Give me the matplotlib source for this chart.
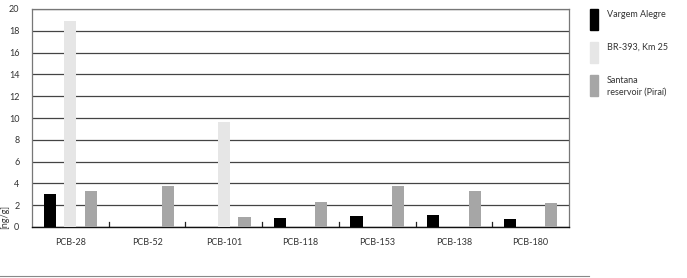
import numpy as np
import matplotlib.pyplot as plt
from matplotlib.patches import Rectangle
from matplotlib.lines import Line2D

# data
categories = ['PCB-28', 'PCB-52', 'PCB-101', 'PCB-118', 'PCB-153', 'PCB-138', 'PCB-180']
vargem     = [3.0, 0, 0, 0.8, 1.0, 1.1, 0.7]
br393      = [18.9, 0, 9.6, 0, 0, 0, 0]
santana    = [3.3, 3.8, 0.9, 2.3, 3.8, 3.3, 2.2]
series_names = ['Vargem Alegre', 'BR-393, Km 25', 'Santana\nreservoir (Piraí)']
colors = ['#000000', '#e6e6e6', '#a6a6a6']

plt.rcParams['font.family'] = ['Lato', 'DejaVu Sans']

W, H = 687, 278
fig = plt.figure(figsize=(W / 100, H / 100), dpi=100)
ax = fig.add_axes((32 / W, 1 - 227 / H, (569 - 32) / W, (227 - 9) / H))

x = np.arange(len(categories))
width = 0.157
offs = [-0.27, 0.0, 0.27]
for vals, off, c in zip([vargem, br393, santana], offs, colors):
    ax.bar(x + off, vals, width, color=c, zorder=3)

ax.set_xlim(-0.5, len(categories) - 0.5)
ax.set_ylim(0, 20)
ax.set_yticks(np.arange(0, 21, 2))
ax.yaxis.grid(True, color='#444444', lw=0.9, zorder=1)
ax.tick_params(axis='y', length=0, pad=9, labelsize=6.5, colors='#333333')
ax.set_xticks(x)
ax.set_xticklabels(categories)
ax.tick_params(axis='x', length=0, pad=8, labelsize=6.5, colors='#333333')

# small separator ticks between groups
for b in x[1:] - 0.5:
    ax.plot([b, b], [0, 0.45], color='#222222', lw=0.9, zorder=2)

for s in ['top', 'right', 'left']:
    ax.spines[s].set_color('#777777')
    ax.spines[s].set_linewidth(0.9)
ax.spines['bottom'].set_color('#111111')
ax.spines['bottom'].set_linewidth(1.0)

fig.text(5 / W, 1 - 217 / H, '[ng/g]', rotation=90, fontsize=6.5,
         color='#333333', ha='center', va='center')

# legend drawn by hand
for i, (name, c) in enumerate(zip(series_names, colors)):
    top = 9 + i * 33
    fig.patches.append(Rectangle((590 / W, 1 - (top + 21) / H), 8 / W, 21 / H,
                                 transform=fig.transFigure, color=c))
    fig.text(607 / W, 1 - (top + 1) / H, name, fontsize=6.5, color='#333333',
             ha='left', va='top', linespacing=1.3)

fig.add_artist(Line2D([0, 589 / W], [1 - 276 / H, 1 - 276 / H],
                      transform=fig.transFigure, color='#888888', lw=0.8))

fig.savefig('out.png', dpi=100)
